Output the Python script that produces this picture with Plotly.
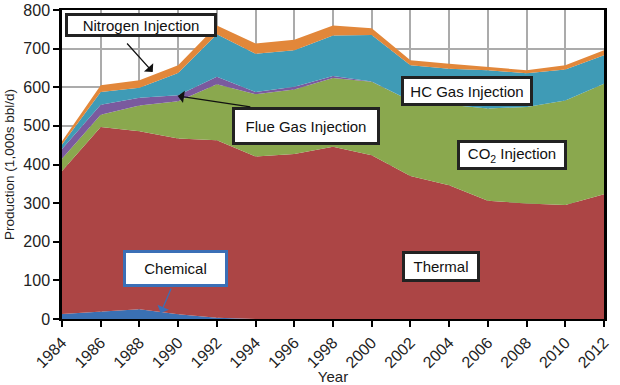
import plotly.graph_objects as go

years = list(range(1984, 2013, 2))
chemical = [13, 19, 25, 12, 3, 0, 0, 0, 0, 0, 0, 0, 0, 0, 0]
thermal = [370, 478, 461, 455, 460, 421, 427, 446, 424, 370, 346, 306, 299, 295, 323]
co2 = [32, 32, 67, 97, 145, 161, 167, 178, 190, 195, 209, 239, 250, 271, 286]
flue_gas = [25, 26, 20, 15, 19, 6, 7, 5, 1, 0, 0, 0, 0, 0, 0]
hc_gas = [12, 33, 26, 58, 110, 99, 95, 105, 120, 92, 93, 99, 87, 80, 74]
nitrogen = [8, 17, 19, 20, 23, 26, 27, 26, 18, 13, 13, 9, 8, 11, 13]

series = [
    ("Chemical", chemical, "#3A70B3"),
    ("Thermal", thermal, "#AC4545"),
    ("CO2 Injection", co2, "#8AA84E"),
    ("Flue Gas Injection", flue_gas, "#7A5A9E"),
    ("HC Gas Injection", hc_gas, "#3F9BB6"),
    ("Nitrogen Injection", nitrogen, "#E2873A"),
]

FONT = "Liberation Sans, Arial, sans-serif"

fig = go.Figure()
for name, vals, col in series:
    fig.add_trace(go.Scatter(
        x=years, y=vals, name=name, stackgroup="one", mode="lines",
        line=dict(width=0, color=col), fillcolor=col, showlegend=False,
    ))

# pixel -> data helpers for annotation placement
X0, X1, Y0, Y1 = 62.3, 604.0, 319.0, 10.0
def dx(px):
    return 1984 + (px - X0) * 28 / (X1 - X0)
def dy(py):
    return (Y0 - py) * 800 / (Y0 - Y1)

boxes = [
    ("Nitrogen Injection", 141, 25, 146, 18, "#222222"),
    ("Flue Gas Injection", 306, 126, 142, 32, "#222222"),
    ("HC Gas Injection", 467, 91, 126, 24, "#222222"),
    ("CO<sub>2</sub> Injection", 512, 155, 104, 24, "#222222"),
    ("Thermal", 441, 266.5, 72, 25, "#222222"),
    ("Chemical", 175.5, 268.5, 99, 31, "#3B6FB6"),
]
annotations = []
for text, cx, cy, w, h, bc in boxes:
    annotations.append(dict(
        x=dx(cx), y=dy(cy), xref="x", yref="y", text=text, showarrow=False,
        width=w, height=h, bgcolor="white", bordercolor=bc, borderwidth=3,
        borderpad=0, font=dict(family=FONT, size=15, color="#111111"),
        align="center", valign="middle",
    ))

arrows = [
    ((126, 42), (153, 72), "#111111"),
    ((252, 107), (178, 96), "#111111"),
    ((172, 287), (161, 313), "#3B6FB6"),
]
for (tx, ty), (hx, hy), col in arrows:
    annotations.append(dict(
        x=dx(hx), y=dy(hy), ax=dx(tx), ay=dy(ty), xref="x", yref="y",
        axref="x", ayref="y", text="", showarrow=True, arrowhead=1,
        arrowsize=1.6, arrowwidth=1.3, arrowcolor=col, standoff=0,
    ))

fig.update_layout(
    width=620, height=385,
    margin=dict(l=62, r=16, t=10, b=66),
    paper_bgcolor="white", plot_bgcolor="white",
    font=dict(family=FONT, size=15, color="#222222"),
    annotations=annotations,
    showlegend=False,
)
fig.update_xaxes(
    range=[1984, 2012], tickmode="array", tickvals=years,
    ticktext=[str(y) for y in years], tickangle=-45, automargin=False,
    showgrid=True, gridcolor="#ABABAB", gridwidth=1.5,
    showline=True, linecolor="black", linewidth=2, mirror=True,
    ticks="outside", ticklen=6, tickwidth=2, tickcolor="black",
    title=dict(text="Year", font=dict(size=15), standoff=2),
    tickfont=dict(size=16), zeroline=False,
)
fig.update_yaxes(
    range=[0, 800], tickvals=list(range(0, 801, 100)), automargin=False,
    showgrid=True, gridcolor="#ABABAB", gridwidth=1.5,
    showline=True, linecolor="black", linewidth=2.5, mirror=True,
    ticks="outside", ticklen=6, tickwidth=2, tickcolor="black",
    title=dict(text="Production (1,000s bbl/d)", font=dict(size=13.5), standoff=6),
    tickfont=dict(size=16), zeroline=False,
)

# remove the browser's default 8px body margin so the figure fills the window
fig.write_html("out.html", config={"displayModeBar": False},
               post_script="document.body.style.margin='0';")
